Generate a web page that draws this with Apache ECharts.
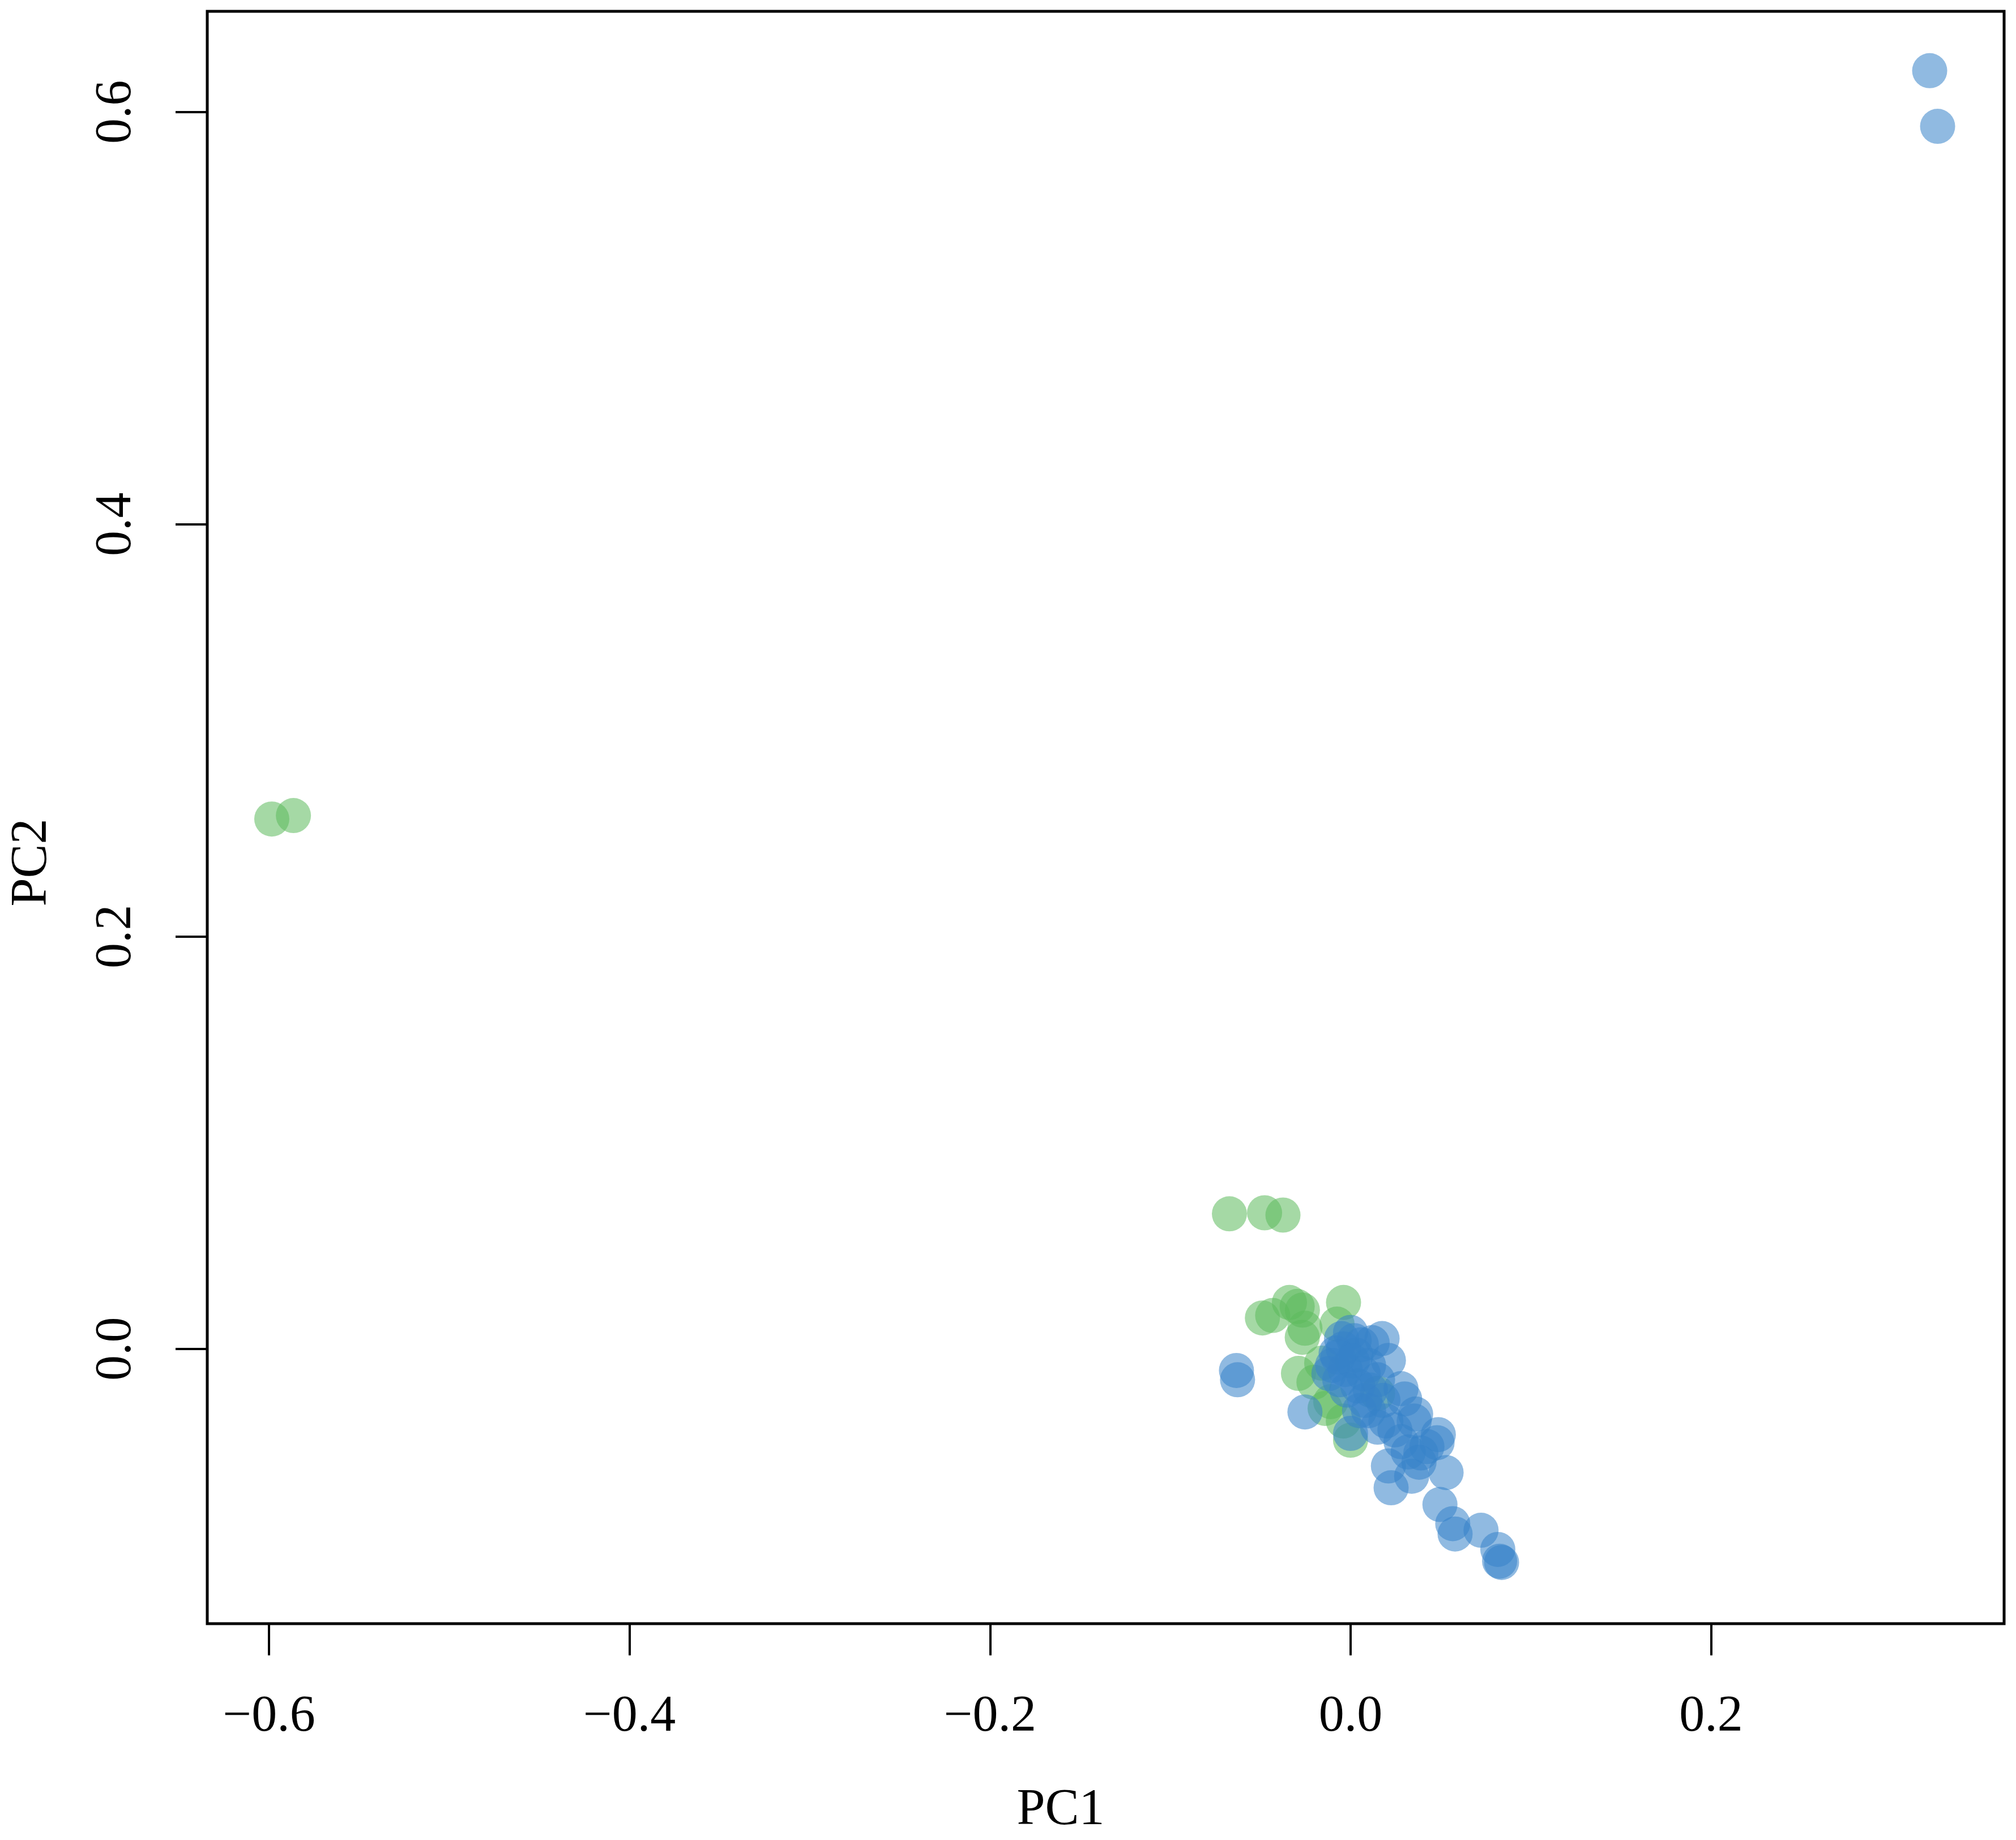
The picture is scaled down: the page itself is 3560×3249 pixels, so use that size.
<!DOCTYPE html>
<html>
<head>
<meta charset="utf-8">
<script src="https://cdn.jsdelivr.net/npm/echarts@6/dist/echarts.min.js"></script>
<style>html,body{margin:0;padding:0;background:#fff}#c{width:3560px;height:3249px}</style>
</head>
<body>
<div id="c"></div>
<script>
const greenX = [-0.5985,-0.5865,-0.0672,-0.0477,-0.0375,-0.0489,-0.0432,-0.0339,-0.0296,-0.0039,-0.0268,-0.0253,-0.0289,-0.0203,-0.0110,-0.0160,0.0000,-0.0040,-0.0075,0.0150,-0.0141,-0.0267];
const greenY = [0.2570,0.2587,0.0655,0.0660,0.0649,0.0150,0.0162,0.0225,0.0206,0.0225,0.0056,0.0100,-0.0119,-0.0162,-0.0256,-0.0069,-0.0443,-0.0350,0.0120,-0.0216,-0.0289,0.0188];
const blueX = [0.3213,0.3257,-0.0633,-0.0627,-0.0253,
  -0.005,0.000,-0.008,0.003,-0.003,0.006,0.010,-0.006,0.004,0.012,0.015,0.008,0.018,-0.010,0.002,-0.012,
  -0.004,0.001,0.007,-0.002,0.011,0.005,-0.007,
  0.0175,0.021,0.028,0.030,0.000,0.0196,0.0246,0.0353,0.0424,0.048,0.021,0.0225,0.0339,0.039,0.053,0.0496,0.0567,0.058,0.0724,0.0817,0.0838,0.0827,
  0.010,0.015,0.028,0.032,0.038,0.0361,0.0487];
const blueY = [0.620,0.593,-0.0105,-0.0150,-0.0306,
  0.005,0.008,-0.002,-0.003,-0.010,0.002,-0.008,-0.015,-0.018,0.003,-0.015,-0.025,-0.025,-0.008,0.004,-0.012,
  0.000,-0.006,-0.012,-0.020,-0.020,-0.030,-0.004,
  0.005,-0.0056,-0.0193,-0.0243,-0.041,-0.035,-0.0393,-0.035,-0.0474,-0.0455,-0.0568,-0.0674,-0.0618,-0.0505,-0.060,-0.0755,-0.0848,-0.0898,-0.088,-0.0973,-0.1036,-0.103,
  -0.030,-0.038,-0.045,-0.050,-0.055,-0.0316,-0.0416];
const xTicks = [-0.6,-0.4,-0.2,0.0,0.2];
const yTicks = [0.0,0.2,0.4,0.6];
const xTickLabels = ['\u22120.6','\u22120.4','\u22120.2','0.0','0.2'];
const yTickLabels = ['0.0','0.2','0.4','0.6'];
const xName = 'PC1', yName = 'PC2';

const font = 'Liberation Serif';
function fmt(ticks, labels){ return v => { const i = ticks.findIndex(t => Math.abs(t - v) < 1e-9); return i >= 0 ? labels[i] : ''; }; }
const chart = echarts.init(document.getElementById('c'));
chart.setOption({
  animation:false,
  backgroundColor:'#fff',
  grid:{left:366,right:21,top:20,bottom:382,show:true,borderColor:'#000',borderWidth:5,backgroundColor:'transparent'},
  graphic:[
    {type:'text',x:1873,y:3197,style:{text:xName,font:'90px "Liberation Serif"',fill:'#000',align:'center',verticalAlign:'middle'}},
    {type:'text',x:57,y:1523,rotation:Math.PI/2,style:{text:yName,font:'90px "Liberation Serif"',fill:'#000',align:'center',verticalAlign:'middle'}}
  ],
  xAxis:{type:'value',min:-0.6343,max:0.3626,
    axisLine:{show:false,onZero:false},splitLine:{show:false},
    axisTick:{show:true,length:56,lineStyle:{color:'#000',width:4},customValues:xTicks},
    axisLabel:{fontFamily:font,fontSize:90,color:'#000',margin:120,customValues:xTicks,formatter:fmt(xTicks,xTickLabels)}},
  yAxis:{type:'value',min:-0.1333,max:0.6488,
    axisLine:{show:false,onZero:false},splitLine:{show:false},
    axisTick:{show:true,length:56,lineStyle:{color:'#000',width:4},customValues:yTicks},
    axisLabel:{fontFamily:font,fontSize:90,color:'#000',margin:115,rotate:90,customValues:yTicks,formatter:fmt(yTicks,yTickLabels)}},
  series:[
    {type:'scatter',symbol:'circle',symbolSize:62,data:greenX.map((x,i)=>[x,greenY[i]]),itemStyle:{color:'rgba(93,187,93,0.69)'}},
    {type:'scatter',symbol:'circle',symbolSize:62,data:blueX.map((x,i)=>[x,blueY[i]]),itemStyle:{color:'rgba(55,130,200,0.69)'}}
  ]
});
</script>
</body>
</html>
